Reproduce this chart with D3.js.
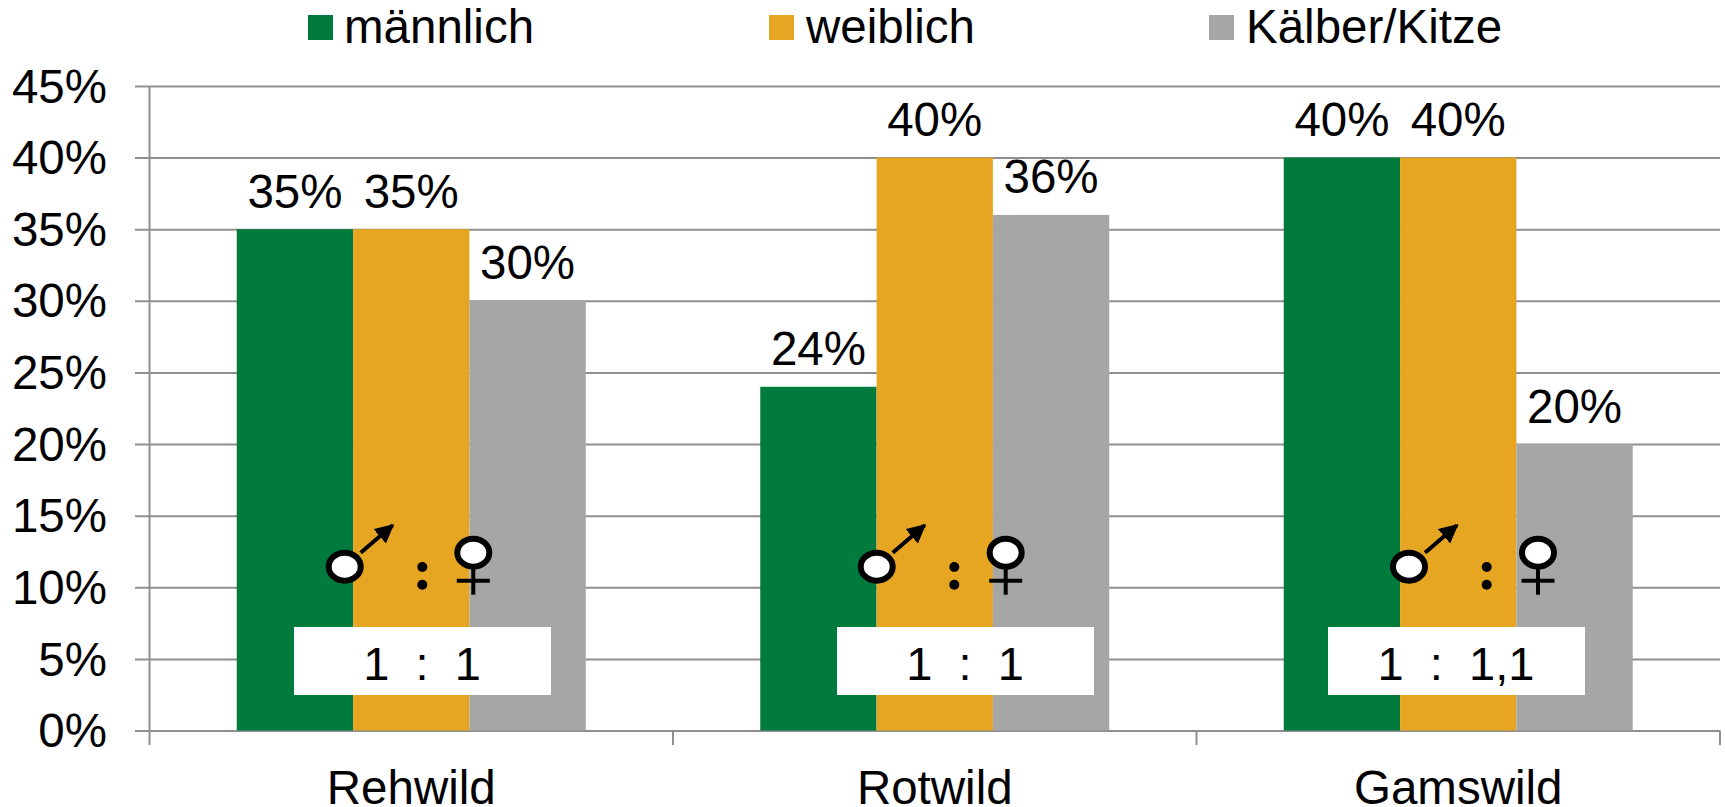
<!DOCTYPE html>
<html lang="de">
<head>
<meta charset="utf-8">
<title>Geschlechterverhältnis</title>
<script src="https://cdn.jsdelivr.net/npm/d3@7/dist/d3.min.js"></script>
<style>
  html, body { margin: 0; padding: 0; background: #fff; }
  svg { display: block; }
  text { font-family: "Liberation Sans", Arial, sans-serif; fill: #000; }
</style>
</head>
<body>
<svg id="chart" width="1725" height="807"></svg>
<script>
// Wildarten und Anteile je Gruppe
const species = ["Rehwild", "Rotwild", "Gamswild"];
const seriesNames = ["männlich", "weiblich", "Kälber/Kitze"];
const maleShare = [35, 24, 40];
const femaleShare = [35, 40, 40];
const youngShare = [30, 36, 20];
const seriesValues = [maleShare, femaleShare, youngShare];
const seriesColors = ["#007a3d", "#e6a621", "#a6a6a6"];
const yTicks = [0, 5, 10, 15, 20, 25, 30, 35, 40, 45];
const ratios = ["1  :  1", "1  :  1", "1  :  1,1"];

const svg = d3.select("#chart");
const plot = { left: 149.5, right: 1720, top: 86, bottom: 730.5 };
const axisColor = "#8f8f8f";
const fontSize = 47.5;

const x0 = d3.scaleBand().domain(species).range([plot.left, plot.right]);
// Drei Balken plus eine Dreiviertel-Balkenbreite Abstand auf jeder Seite
const x1 = d3.scaleBand().domain(seriesNames).range([0, x0.bandwidth()]).paddingInner(0).paddingOuter(0.75);
const y = d3.scaleLinear().domain([0, 45]).range([plot.bottom, plot.top]);

// Gitterlinien mit kurzen Teilstrichen links
const yAxis = svg.append("g")
  .attr("transform", `translate(${plot.left},0)`)
  .call(d3.axisLeft(y).tickValues(yTicks).tickFormat(d => d + "%")
    .tickSize(-(plot.right - plot.left)).tickPadding(0));
yAxis.select(".domain").remove();
yAxis.selectAll(".tick line")
  .attr("x1", 135 - plot.left)
  .attr("stroke", axisColor).attr("stroke-width", 2);
yAxis.selectAll(".tick text")
  .attr("x", 107 - plot.left)
  .attr("dy", "0.34em")
  .attr("text-anchor", "end")
  .attr("font-size", fontSize)
  .style("font-family", '"Liberation Sans", Arial, sans-serif')
  .style("fill", "#000");

// Senkrechte Achse und Gruppentrenner unter der Nulllinie
const boundaries = species.map(s => x0(s)).concat(plot.right);
svg.append("line")
  .attr("x1", plot.left).attr("x2", plot.left)
  .attr("y1", plot.top).attr("y2", plot.bottom)
  .attr("stroke", axisColor).attr("stroke-width", 2);
svg.selectAll(".sep").data(boundaries).join("line")
  .attr("class", "sep")
  .attr("x1", d => d).attr("x2", d => d)
  .attr("y1", plot.bottom).attr("y2", 745)
  .attr("stroke", axisColor).attr("stroke-width", 2);

// Balken mit Wertbeschriftung
const groups = svg.selectAll(".group").data(species).join("g")
  .attr("class", "group")
  .attr("transform", d => `translate(${x0(d)},0)`);

groups.each(function (_, gi) {
  const g = d3.select(this);
  seriesNames.forEach((name, si) => {
    const v = seriesValues[si][gi];
    g.append("rect")
      .attr("x", x1(name))
      .attr("y", y(v))
      .attr("width", x1.bandwidth())
      .attr("height", y(0) - y(v))
      .attr("fill", seriesColors[si]);
    g.append("text")
      .attr("x", x1(name) + x1.bandwidth() / 2)
      .attr("y", y(v) - 21.5)
      .attr("text-anchor", "middle")
      .attr("font-size", fontSize)
      .text(v + "%");
  });
});

// Kategorienamen unter der Achse
svg.selectAll(".cat").data(species).join("text")
  .attr("class", "cat")
  .attr("x", d => x0(d) + x0.bandwidth() / 2)
  .attr("y", 804)
  .attr("text-anchor", "middle")
  .attr("font-size", fontSize)
  .text(d => d);

// Legende
const legendX = [308, 769, 1209];
const legend = svg.selectAll(".legend").data(seriesNames).join("g")
  .attr("class", "legend")
  .attr("transform", (d, i) => `translate(${legendX[i]},0)`);
legend.append("rect")
  .attr("y", 15).attr("width", 25).attr("height", 25)
  .attr("fill", (d, i) => seriesColors[i]);
legend.append("text")
  .attr("x", (d, i) => i === 0 ? 36 : 37).attr("y", 43)
  .attr("font-size", fontSize)
  .text(d => d);

// Geschlechtersymbole und Verhältnisfelder
svg.append("defs").append("marker")
  .attr("id", "arrowhead")
  .attr("viewBox", "0 0 10 10").attr("refX", 9).attr("refY", 5)
  .attr("markerUnits", "userSpaceOnUse")
  .attr("markerWidth", 19).attr("markerHeight", 19)
  .attr("orient", "auto")
  .append("path").attr("d", "M0,0L10,5L0,10Z").attr("fill", "#000");

const symbolLeft = [344.7, 876.7, 1409];
const colonLeft = [422.3, 954.3, 1486.7];
const femaleLeft = [473.3, 1005.7, 1538];
const boxLeft = [294, 837, 1328];
const boxWidth = 257;

species.forEach((s, i) => {
  const m = svg.append("g").attr("transform", `translate(${symbolLeft[i]},566.7)`);
  m.append("ellipse").attr("rx", 16).attr("ry", 14)
    .attr("fill", "#fff").attr("stroke", "#000").attr("stroke-width", 6);
  m.append("line")
    .attr("x1", 16).attr("y1", -14).attr("x2", 48).attr("y2", -41.5)
    .attr("stroke", "#000").attr("stroke-width", 4)
    .attr("marker-end", "url(#arrowhead)");

  [567, 584.7].forEach(cy => {
    svg.append("circle").attr("cx", colonLeft[i]).attr("cy", cy).attr("r", 5).attr("fill", "#000");
  });

  const f = svg.append("g").attr("transform", `translate(${femaleLeft[i]},552.7)`);
  f.append("line").attr("x1", 0).attr("x2", 0).attr("y1", 14).attr("y2", 42)
    .attr("stroke", "#000").attr("stroke-width", 4);
  f.append("line").attr("x1", -16.5).attr("x2", 16.5).attr("y1", 28).attr("y2", 28)
    .attr("stroke", "#000").attr("stroke-width", 4);
  f.append("ellipse").attr("rx", 16).attr("ry", 14)
    .attr("fill", "#fff").attr("stroke", "#000").attr("stroke-width", 6);

  svg.append("rect")
    .attr("x", boxLeft[i]).attr("y", 627)
    .attr("width", boxWidth).attr("height", 68)
    .attr("fill", "#fff");
  svg.append("text")
    .attr("x", boxLeft[i] + boxWidth / 2 - 0.5).attr("y", 680)
    .attr("text-anchor", "middle")
    .attr("font-size", 47)
    .style("white-space", "pre")
    .text(ratios[i]);
});
</script>
</body>
</html>
